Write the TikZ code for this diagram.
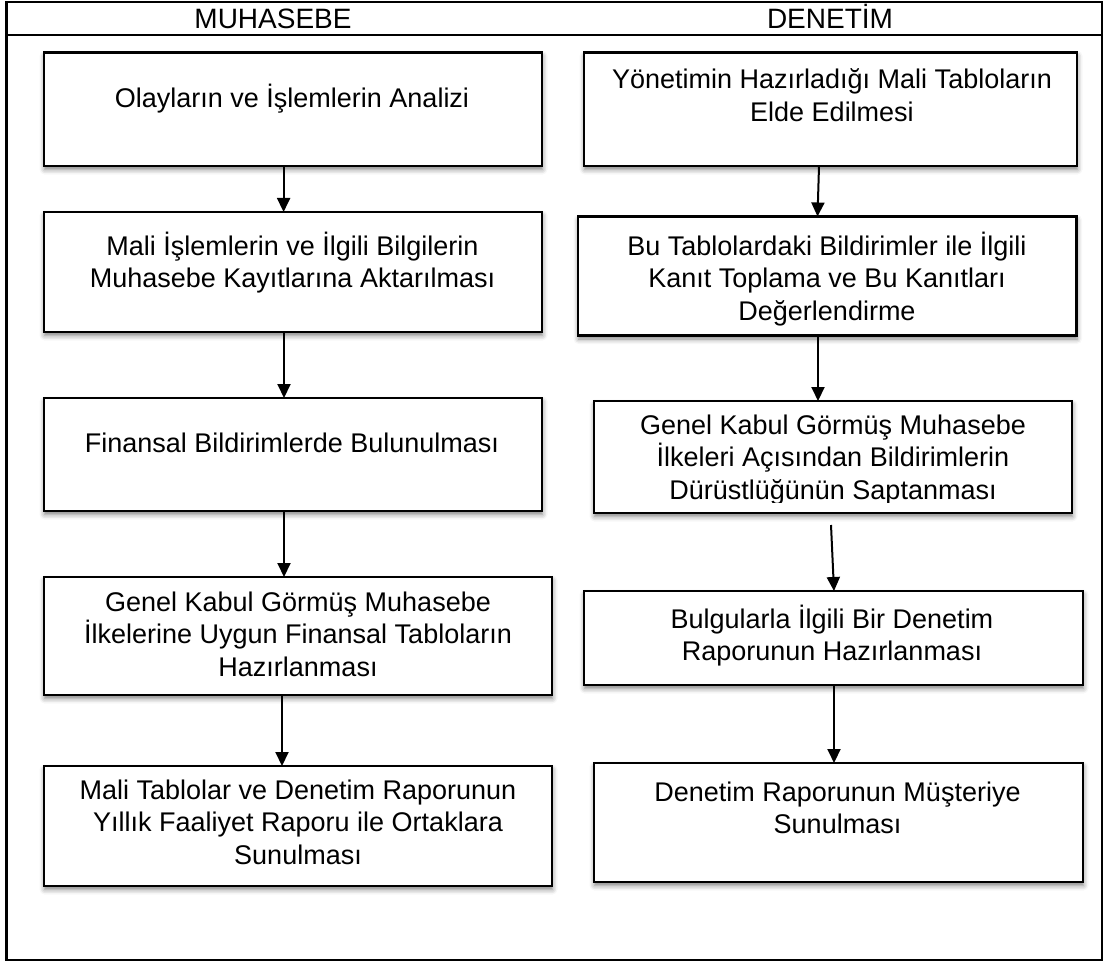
\documentclass[tikz,border=0pt]{standalone}
\usepackage{fontspec}
\setmainfont{Liberation Sans}
\usetikzlibrary{arrows.meta,shadows.blur}
\begin{document}
\begin{tikzpicture}[x=1pt,y=-1pt,
  stepbox/.style={draw=black, line width=2.8pt, fill=white, inner sep=0pt, outer sep=0pt,
    blur shadow={shadow xshift=0.5pt, shadow yshift=-3.5pt, shadow blur radius=5pt, shadow opacity=50}},
  boxtext/.style={align=center, inner sep=0pt, anchor=north,
    font=\fontsize{27}{32.6}\selectfont, execute at begin node=\strut},
  head/.style={anchor=base, inner sep=0pt, font=\fontsize{28}{33}\selectfont},
  flow/.style={line width=2pt, -{Triangle[length=14pt,width=13pt]}},
  frameline/.style={line width=2.3pt}
]
\useasboundingbox (0,0) rectangle (1107,965);

% outer frame and header row
\draw[frameline] (6.5,2) rectangle (1102,960);
\draw[frameline] (6.5,35) -- (1102,35);
\node[head] (hL) at (273,29) {MUHASEBE};
\node[head] (hR) at (830,29) {DENETİM};

% left column boxes
\node[stepbox, minimum width=498pt, minimum height=113.5pt] (L1) at (293,109.25) {};
\node[stepbox, minimum width=498pt, minimum height=120pt]   (L2) at (293,272) {};
\node[stepbox, minimum width=498pt, minimum height=113pt]   (L3) at (293,454.5) {};
\node[stepbox, minimum width=508pt, minimum height=118pt]   (L4) at (298,636) {};
\node[stepbox, minimum width=508pt, minimum height=120pt]   (L5) at (298,826) {};

% right column boxes
\node[stepbox, minimum width=493pt, minimum height=113.5pt] (R1) at (830.5,109.25) {};
\node[stepbox, minimum width=498.5pt, minimum height=119pt] (R2) at (827.25,276) {};
\node[stepbox, minimum width=478pt, minimum height=112pt]   (R3) at (833,457) {};
\node[stepbox, minimum width=499pt, minimum height=94pt]    (R4) at (833.5,638) {};
\node[stepbox, minimum width=489pt, minimum height=119pt]   (R5) at (838.5,822.5) {};

% left column texts
\node[boxtext] (L1t) at (292,83.5) {Olayların ve İşlemlerin Analizi};
\node[boxtext] (L2t) at (292.5,231.5) {Mali İşlemlerin ve İlgili Bilgilerin\\Muhasebe Kayıtlarına Aktarılması};
\node[boxtext] (L3t) at (292,429.5) {Finansal Bildirimlerde Bulunulması};
\node[boxtext] (L4t) at (298,591.5) {Genel Kabul Görmüş Muhasebe\\İlkelerine Uygun Finansal Tabloların\\Hazırlanması};
\node[boxtext] (L5t) at (298,779.5) {Mali Tablolar ve Denetim Raporunun\\Yıllık Faaliyet Raporu ile Ortaklara\\Sunulması};

% right column texts
\node[boxtext] (R1t) at (832,68.5) {Yönetimin Hazırladığı Mali Tabloların\\Elde Edilmesi};
\node[boxtext] (R2t) at (827,231.5) {Bu Tablolardaki Bildirimler ile İlgili\\Kanıt Toplama ve Bu Kanıtları\\Değerlendirme};
\begin{scope}
  \clip (596,403) rectangle (1070,502);
  \node[boxtext] (R3t) at (833,414.5) {Genel Kabul Görmüş Muhasebe\\İlkeleri Açısından Bildirimlerin\\Dürüstlüğünün Saptanması};
\end{scope}
\node[boxtext] (R4t) at (832,604.5) {Bulgularla İlgili Bir Denetim\\Raporunun Hazırlanması};
\node[boxtext] (R5t) at (837.5,781.5) {Denetim Raporunun Müşteriye\\Sunulması};

% left column connectors
\draw[flow] ([xshift=-9.4pt]L1.south) -- ([xshift=-9.4pt]L2.north);
\draw[flow] ([xshift=-9pt]L2.south) -- ([xshift=-9pt]L3.north);
\draw[flow] ([xshift=-9pt]L3.south) -- ([xshift=-14pt]L4.north);
\draw[flow] ([xshift=-16pt]L4.south) -- ([xshift=-16pt]L5.north);

% right column connectors
\draw[flow] ([xshift=-11.5pt]R1.south) -- ([xshift=-9.75pt]R2.north);
\draw[flow] ([xshift=-9.25pt]R2.south) -- ([xshift=-15pt]R3.north);
\draw[flow] ([xshift=-2pt,yshift=-12pt]R3.south) -- ([xshift=0.5pt]R4.north);
\draw[flow] ([xshift=0.5pt]R4.south) -- ([xshift=-4.5pt]R5.north);
\end{tikzpicture}
\end{document}
